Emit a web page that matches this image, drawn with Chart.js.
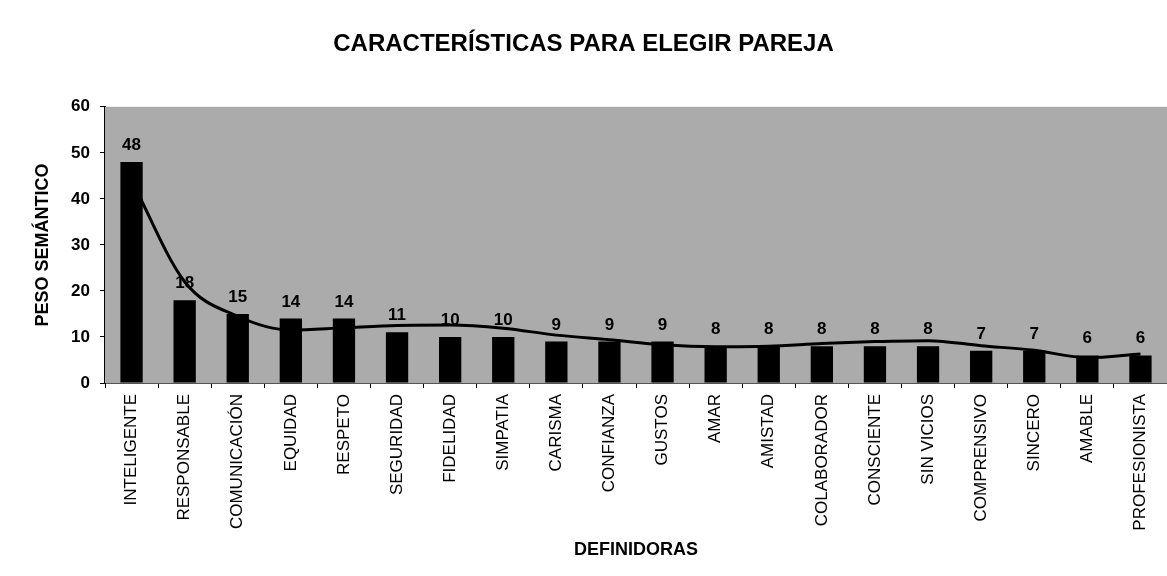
<!DOCTYPE html>
<html>
<head>
<meta charset="utf-8">
<script src="https://cdn.jsdelivr.net/npm/chart.js@4"></script>
<style>
  html, body { margin: 0; padding: 0; background: #fff; }
  #wrap { width: 1167px; height: 576px; }
</style>
</head>
<body>
<div id="wrap"><canvas id="chart" width="1167" height="576"></canvas></div>
<script>
const definidoras = ["INTELIGENTE", "RESPONSABLE", "COMUNICACIÓN", "EQUIDAD", "RESPETO", "SEGURIDAD",
  "FIDELIDAD", "SIMPATIA", "CARISMA", "CONFIANZA", "GUSTOS", "AMAR", "AMISTAD", "COLABORADOR",
  "CONSCIENTE", "SIN VICIOS", "COMPRENSIVO", "SINCERO", "AMABLE", "PROFESIONISTA"];
const pesoSemantico = [48, 18, 15, 14, 14, 11, 10, 10, 9, 9, 9, 8, 8, 8, 8, 8, 7, 7, 6, 6];
const tendencia = [44, 22, 14.5, 11.5, 12, 12.5, 12.6, 11.9, 10.4, 9.4, 8.3, 7.9, 8, 8.6, 9, 9.2, 8.1, 7.1, 5.5, 6.3];

const FONT = "Arial, 'Liberation Sans', sans-serif";

// grey plot background
const plotBg = {
  id: "plotBg",
  beforeDatasetsDraw(chart) {
    const { ctx, chartArea: a } = chart;
    ctx.save();
    ctx.fillStyle = "#ababab";
    ctx.fillRect(a.left, a.top, a.right - a.left, a.bottom - a.top);
    ctx.restore();
  }
};

// value labels above the bars (drawn before the line)
const barLabels = {
  id: "barLabels",
  afterDatasetDraw(chart, args) {
    if (args.meta.type !== "bar") return;
    const ctx = chart.ctx;
    ctx.save();
    ctx.font = "bold 17px " + FONT;
    ctx.fillStyle = "#000";
    ctx.textAlign = "center";
    ctx.textBaseline = "alphabetic";
    args.meta.data.forEach((bar, i) => {
      ctx.fillText(pesoSemantico[i], bar.x, bar.y - 12);
    });
    ctx.restore();
  }
};

new Chart(document.getElementById("chart"), {
  data: {
    labels: definidoras,
    datasets: [
      {
        type: "line",
        data: tendencia,
        borderColor: "#000",
        borderWidth: 3,
        pointRadius: 0,
        cubicInterpolationMode: "monotone",
        order: 0
      },
      {
        type: "bar",
        data: pesoSemantico,
        backgroundColor: "#000",
        categoryPercentage: 1,
        barPercentage: 0.42,
        order: 1
      }
    ]
  },
  options: {
    responsive: false,
    animation: false,
    layout: { padding: 0 },
    plugins: {
      legend: { display: false },
      tooltip: { enabled: false },
      title: {
        display: true,
        text: "CARACTERÍSTICAS PARA ELEGIR PAREJA",
        color: "#000",
        font: { family: FONT, size: 24, weight: "bold" },
        padding: { top: 30, bottom: 48 }
      }
    },
    scales: {
      x: {
        grid: { drawOnChartArea: false, offset: true, tickLength: 5, color: "#000" },
        border: { color: "#555", width: 2 },
        ticks: {
          autoSkip: false, minRotation: 90, maxRotation: 90, padding: 6,
          color: "#000", font: { family: FONT, size: 17 }
        },
        title: {
          display: true, text: "DEFINIDORAS", color: "#000",
          font: { family: FONT, size: 18, weight: "bold" },
          padding: { top: 4, bottom: 15 }
        },
        afterFit(scale) { scale.height = 193; }
      },
      y: {
        min: 0, max: 60,
        grid: { drawOnChartArea: false, tickLength: 5, color: "#000" },
        border: { color: "#000", width: 2 },
        ticks: {
          stepSize: 10, padding: 10, color: "#000",
          font: { family: FONT, size: 17, weight: "bold" }
        },
        title: {
          display: true, text: "PESO SEMÁNTICO", color: "#000",
          font: { family: FONT, size: 18, weight: "bold" },
          padding: { top: 32, bottom: 0 }
        },
        afterFit(scale) { scale.width = 105; }
      }
    }
  },
  plugins: [plotBg, barLabels]
});
</script>
</body>
</html>
